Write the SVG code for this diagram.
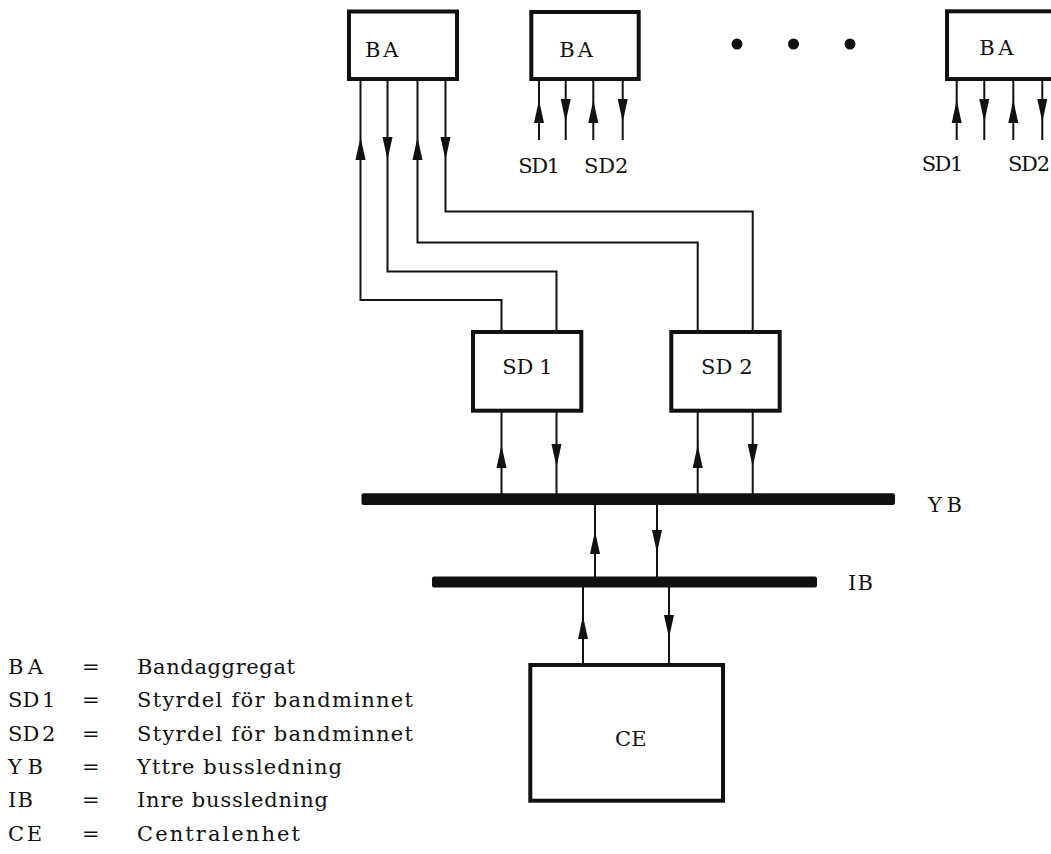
<svg xmlns="http://www.w3.org/2000/svg" xmlns:xlink="http://www.w3.org/1999/xlink" width="1051" height="854" viewBox="0 0 1051 854">
<style>
.box{fill:#fff;stroke:#111;stroke-width:4}
.bus{fill:#111}
.ln{fill:none;stroke:#111;stroke-width:2}
.t{font-family:"DejaVu Serif","Liberation Serif",serif;font-size:21px;fill:#111}
.sd{word-spacing:-4px}
.dot{fill:#111}
</style>
<defs>
<polygon id="up" points="0,0 -5,23 5,23" fill="#111"/>
<polygon id="dn" points="0,0 -5,-23 5,-23" fill="#111"/>
</defs>
<rect width="1051" height="854" fill="#fff"/>

<g id="connectors">
<path class="ln" d="M360.5,81 V300 H501.5 V330"/>
<path class="ln" d="M387.5,81 V271.5 H556.5 V330"/>
<path class="ln" d="M417.5,81 V242.5 H697.7 V330"/>
<path class="ln" d="M445.5,81 V211.5 H752.7 V330"/>
<use xlink:href="#up" x="360.5" y="137"/>
<use xlink:href="#dn" x="387.5" y="160"/>
<use xlink:href="#up" x="417.5" y="137"/>
<use xlink:href="#dn" x="445.5" y="160"/>
<path class="ln" d="M539,81 V140 M565.7,81 V140 M593.3,81 V140 M622.7,81 V140"/>
<use xlink:href="#up" x="539" y="100"/>
<use xlink:href="#dn" x="565.7" y="122"/>
<use xlink:href="#up" x="593.3" y="100"/>
<use xlink:href="#dn" x="622.7" y="122"/>
<path class="ln" d="M956.7,81 V140 M984.3,81 V140 M1013.3,81 V140 M1042.3,81 V140"/>
<use xlink:href="#up" x="956.7" y="100"/>
<use xlink:href="#dn" x="984.3" y="122"/>
<use xlink:href="#up" x="1013.3" y="100"/>
<use xlink:href="#dn" x="1042.3" y="122"/>
<path class="ln" d="M501.5,412 V494 M556.5,412 V494 M697.7,412 V494 M752.7,412 V494"/>
<use xlink:href="#up" x="501.5" y="445"/>
<use xlink:href="#dn" x="556.5" y="467"/>
<use xlink:href="#up" x="697.7" y="445"/>
<use xlink:href="#dn" x="752.7" y="467"/>
<path class="ln" d="M595,504 V577 M657,504 V577"/>
<use xlink:href="#up" x="595" y="531"/>
<use xlink:href="#dn" x="657" y="553"/>
<path class="ln" d="M583,587 V663 M669,587 V663"/>
<use xlink:href="#up" x="583" y="616"/>
<use xlink:href="#dn" x="669" y="638"/>
</g>

<g id="BA1">
<rect class="box" x="349" y="11.5" width="108" height="67.5"/>
<text class="t" x="365" y="56.5" textLength="33.5">BA</text>
</g>
<g id="BA2">
<rect class="box" x="531.3" y="12" width="107.4" height="67"/>
<text class="t" x="559.3" y="56.5" textLength="33.5">BA</text>
<text class="t" x="518.3" y="172.7" textLength="41.7">SD1</text>
<text class="t" x="584" y="172.7" textLength="44.3">SD2</text>
</g>
<g id="dots">
<circle class="dot" cx="737" cy="44" r="5.5"/>
<circle class="dot" cx="793.5" cy="44" r="5.5"/>
<circle class="dot" cx="850" cy="44" r="5.5"/>
</g>
<g id="BA3">
<rect class="box" x="947" y="11.3" width="130" height="67.7"/>
<text class="t" x="979.3" y="55" textLength="34">BA</text>
<text class="t" x="921.7" y="170.5" textLength="41.6">SD1</text>
<text class="t" x="1008" y="170.5" textLength="42">SD2</text>
</g>
<g id="SD1">
<rect class="box" x="473" y="332" width="108.3" height="78.7"/>
<text class="t" x="502.3" y="374" textLength="50.4">SD 1</text>
</g>
<g id="SD2">
<rect class="box" x="671.3" y="332" width="108.4" height="78.7"/>
<text class="t" x="701" y="374" textLength="51.7">SD 2</text>
</g>
<g id="YB">
<rect class="bus" x="361.5" y="493.3" width="533.5" height="11.7" rx="2"/>
<text class="t" x="928" y="512" textLength="34">YB</text>
</g>
<g id="IB">
<rect class="bus" x="432" y="576.5" width="385" height="11" rx="2"/>
<text class="t" x="848" y="590" textLength="25">IB</text>
</g>
<g id="CE">
<rect class="box" x="530.3" y="665" width="192.7" height="135.7"/>
<text class="t" x="615" y="745.7" textLength="31.7">CE</text>
</g>

<g id="legend">
<text class="t" x="8" y="674" textLength="35">BA</text>
<text class="t" x="82" y="674" textLength="11">=</text>
<text class="t" x="137" y="674" textLength="158">Bandaggregat</text>
<text class="t sd" x="8" y="707.3">SD 1</text>
<text class="t" x="82" y="707.3" textLength="11">=</text>
<text class="t" x="137" y="707.3" textLength="276">Styrdel för bandminnet</text>
<text class="t sd" x="8" y="740.6">SD 2</text>
<text class="t" x="82" y="740.6" textLength="11">=</text>
<text class="t" x="137" y="740.6" textLength="276">Styrdel för bandminnet</text>
<text class="t" x="8" y="774" textLength="35">YB</text>
<text class="t" x="82" y="774" textLength="11">=</text>
<text class="t" x="137" y="774" textLength="205">Yttre bussledning</text>
<text class="t" x="8" y="807.3" textLength="25">IB</text>
<text class="t" x="82" y="807.3" textLength="11">=</text>
<text class="t" x="137" y="807.3" textLength="191">Inre bussledning</text>
<text class="t" x="8" y="840.6" textLength="34">CE</text>
<text class="t" x="82" y="840.6" textLength="11">=</text>
<text class="t" x="137" y="840.6" textLength="163">Centralenhet</text>
</g>
</svg>
